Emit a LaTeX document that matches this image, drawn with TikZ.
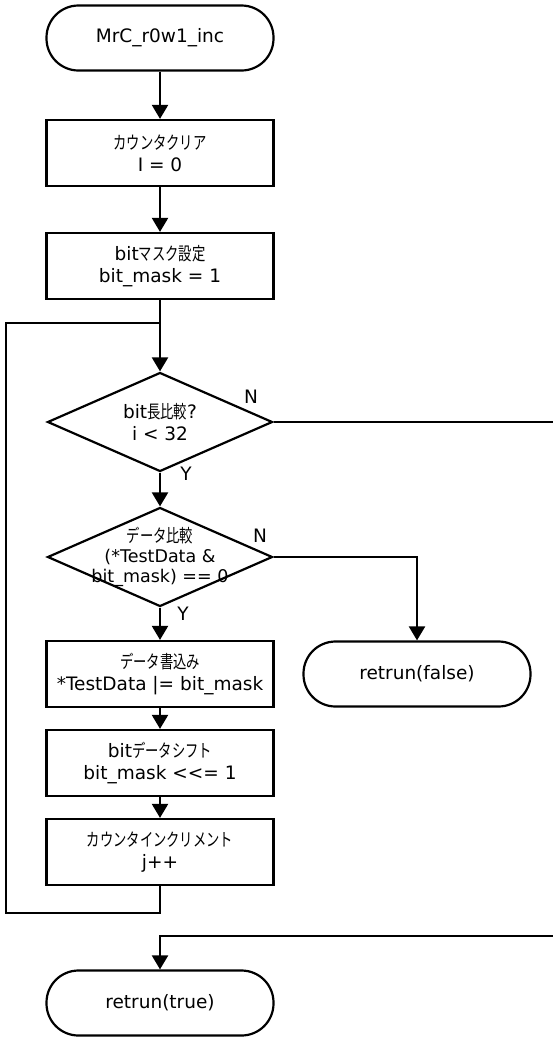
\documentclass[tikz,border=0pt]{standalone}
\usepackage{fontspec}
\setmainfont{DejaVu Sans}
\newfontfamily\jpfont[FakeStretch=0.74]{Noto Sans CJK JP}
\newcommand{\jtxt}[1]{{\jpfont\fontsize{18}{22}\selectfont #1}}
\usetikzlibrary{arrows.meta,shapes.geometric}

\begin{document}
\begin{tikzpicture}[x=1pt,y=-1pt,line width=2.2pt,font=\fontsize{18.5}{22}\selectfont]
\tikzset{term/.style = {shape=rectangle,draw,rounded corners=32pt,minimum width=227pt,minimum height=65pt,inner sep=0pt}}
\tikzset{box/.style = {shape=rectangle,draw,minimum width=227pt,minimum height=66pt,inner sep=0pt,align=center}}
\tikzset{decision/.style = {shape=diamond,draw,minimum width=225pt,minimum height=99pt,inner sep=0pt}}
\tikzset{dtext/.style = {align=center,inner sep=0pt}}
\tikzset{yn/.style = {inner sep=0pt}}
\tikzset{edge/.style = {->,> = {Triangle[length=14pt,width=16pt]}}}
\useasboundingbox (0,0) rectangle (553,1037);

\node[term] (start) at (160,38) {MrC\_r0w1\_inc};
\foreach \y/\name/\txt in {153/clr/{\jtxt{カウンタクリア}\\I = 0}, 266/msk/{bit\jtxt{マスク設定}\\bit\_mask = 1}, 674/wr/{\jtxt{データ書込み}\\*TestData |= bit\_mask}, 763/sft/{bit\jtxt{データシフト}\\bit\_mask {<}{<}= 1}, 852/inc/{\jtxt{カウンタインクリメント}\\j++}}
\node[box] (\name) at (160,\y) {\txt};

\node[decision] (len) at (160,422) {};
\node[dtext] (lentxt) at (len) {bit\jtxt{長比較}?\\i < 32};
\node[decision] (cmp) at (160,557) {};
\node[dtext,font=\fontsize{17.5}{20}\selectfont] (cmptxt) at (cmp) {\jtxt{データ比較}\\(*TestData \&\\bit\_mask) == 0};

\node[term] (rf) at (417,674) {retrun(false)};
\node[term] (rt) at (160,1003) {retrun(true)};

\node[yn] (lenN) at (251,397) {N};
\node[yn] (lenY) at (186,474) {Y};
\node[yn] (cmpN) at (260,536) {N};
\node[yn] (cmpY) at (183,614) {Y};

\coordinate (jn) at (160,323);
\coordinate (lpb) at (6,913);
\coordinate (outr) at (553,422);
\coordinate (inr) at (553,936);

\foreach \from/\to in {start/clr, clr/msk, msk/len, len/cmp, cmp/wr, wr/sft, sft/inc}
\draw [edge] (\from) -- (\to);

% loop back
\draw (inc.south) |- (lpb) |- (jn);
\draw (len.east) -- (outr);
\draw [edge] (cmp.east) -| (rf.north);
\draw [edge] (inr) -| (rt.north);
\end{tikzpicture}
\end{document}
